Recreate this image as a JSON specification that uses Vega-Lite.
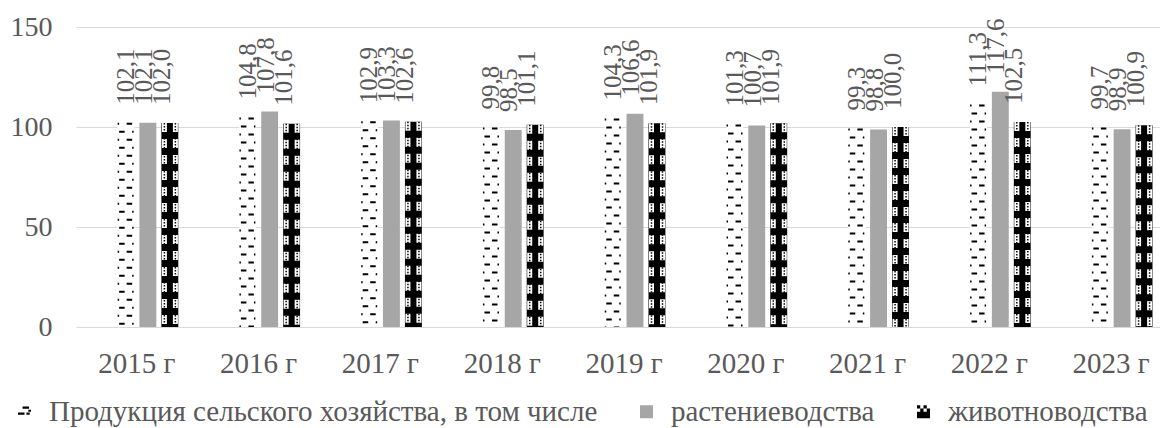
{
  "$schema": "https://vega.github.io/schema/vega-lite/v6.json",
  "width": 1084,
  "height": 300,
  "autosize": {"type": "none"},
  "padding": {"left": 76, "top": 27, "right": 0, "bottom": 101},
  "background": "white",
  "config": {
    "view": {"stroke": null},
    "font": "Liberation Serif",
    "locale": {"number": {"decimal": ",", "thousands": "\u00a0", "grouping": [3], "currency": ["", ""]}},
    "axis": {"labelFont": "Liberation Serif", "labelColor": "#595959", "labelFontSize": 28, "title": null, "ticks": false, "domain": false}
  },
  "data": {
    "values": [
      {"year": "2015 г", "series": "Продукция сельского хозяйства, в том числе", "value": 102.1},
      {"year": "2015 г", "series": "растениеводства", "value": 102.1},
      {"year": "2015 г", "series": "животноводства", "value": 102.0},
      {"year": "2016 г", "series": "Продукция сельского хозяйства, в том числе", "value": 104.8},
      {"year": "2016 г", "series": "растениеводства", "value": 107.8},
      {"year": "2016 г", "series": "животноводства", "value": 101.6},
      {"year": "2017 г", "series": "Продукция сельского хозяйства, в том числе", "value": 102.9},
      {"year": "2017 г", "series": "растениеводства", "value": 103.3},
      {"year": "2017 г", "series": "животноводства", "value": 102.6},
      {"year": "2018 г", "series": "Продукция сельского хозяйства, в том числе", "value": 99.8},
      {"year": "2018 г", "series": "растениеводства", "value": 98.5},
      {"year": "2018 г", "series": "животноводства", "value": 101.1},
      {"year": "2019 г", "series": "Продукция сельского хозяйства, в том числе", "value": 104.3},
      {"year": "2019 г", "series": "растениеводства", "value": 106.6},
      {"year": "2019 г", "series": "животноводства", "value": 101.9},
      {"year": "2020 г", "series": "Продукция сельского хозяйства, в том числе", "value": 101.3},
      {"year": "2020 г", "series": "растениеводства", "value": 100.7},
      {"year": "2020 г", "series": "животноводства", "value": 101.9},
      {"year": "2021 г", "series": "Продукция сельского хозяйства, в том числе", "value": 99.3},
      {"year": "2021 г", "series": "растениеводства", "value": 98.8},
      {"year": "2021 г", "series": "животноводства", "value": 100.0},
      {"year": "2022 г", "series": "Продукция сельского хозяйства, в том числе", "value": 111.3},
      {"year": "2022 г", "series": "растениеводства", "value": 117.6},
      {"year": "2022 г", "series": "животноводства", "value": 102.5},
      {"year": "2023 г", "series": "Продукция сельского хозяйства, в том числе", "value": 99.7},
      {"year": "2023 г", "series": "растениеводства", "value": 98.9},
      {"year": "2023 г", "series": "животноводства", "value": 100.9}
    ]
  },
  "encoding": {
    "x": {
      "field": "year", "type": "nominal", "sort": null,
      "scale": {"paddingInner": 0.32, "paddingOuter": 0.16, "range": [0, 1096]},
      "axis": {"labelAngle": 0, "labelPadding": 22, "grid": false, "labelFontSize": 29}
    },
    "y": {
      "field": "value", "type": "quantitative",
      "scale": {"domain": [0, 150], "nice": false},
      "axis": {"values": [0, 50, 100, 150], "grid": true, "gridColor": "#d9d9d9", "gridWidth": 1, "labelPadding": 24}
    }
  },
  "layer": [
    {
      "mark": {"type": "bar"},
      "encoding": {
        "xOffset": {"field": "series", "scale": {"domain": ["_", "Продукция сельского хозяйства, в том числе", "растениеводства", "животноводства"], "paddingInner": 0.23, "paddingOuter": 0}},
        "color": {
          "condition": {"test": "datum.series === 'Продукция сельского хозяйства, в том числе'", "value": "#ffffff"},
          "field": "series", "type": "nominal",
          "scale": {"domain": ["Продукция сельского хозяйства, в том числе", "растениеводства", "животноводства"], "range": ["#000000", "#a6a6a6", "#000000"]},
          "legend": {
            "title": null, "orient": "none", "direction": "horizontal", "legendX": -66, "legendY": 370,
            "labelFont": "Liberation Serif", "labelFontSize": 29, "labelColor": "#595959",
            "symbolSize": 169, "labelOffset": 10, "columnPadding": 34,
            "labelLimit": 1000,
            "encode": {
              "symbols": {
                "update": {
                  "shape": {"signal": "datum.value === 'растениеводства' ? 'square' : datum.value === 'животноводства' ? 'M-1,0H1V1H-1Z M-1,-1h0.5v0.5h-0.5z M0,-1h0.5v0.5h-0.5z M-0.5,-0.5h0.5v0.5h-0.5z M0.5,-0.5h0.5v0.5h-0.5z' : 'M-0.3,-0.8H0.7V-0.45H-0.3Z M-1,0.1H0V0.45H-1Z M0.3,0.1H0.8V0.45H0.3Z M0.6,-0.3H1V0H0.6Z'"},
                  "stroke": {"value": "transparent"},
                  "opacity": {"value": 1}
                }
              }
            }
          }
        }
      }
    },
    {
      "transform": [{"filter": {"field": "series", "equal": "Продукция сельского хозяйства, в том числе"}}],
      "mark": {"type": "rule", "color": "#000000", "strokeWidth": 1.5, "strokeDash": [2, 14], "strokeDashOffset": 0, "xOffset": -18.5},
      "encoding": {"y2": {"datum": 0}}
    },
    {
      "transform": [{"filter": {"field": "series", "equal": "Продукция сельского хозяйства, в том числе"}}],
      "mark": {"type": "rule", "color": "#000000", "strokeWidth": 5.5, "strokeDash": [2, 14], "strokeDashOffset": 0, "xOffset": -7.5},
      "encoding": {"y2": {"datum": 0}}
    },
    {
      "transform": [{"filter": {"field": "series", "equal": "Продукция сельского хозяйства, в том числе"}}],
      "mark": {"type": "rule", "color": "#000000", "strokeWidth": 5.5, "strokeDash": [2, 14], "strokeDashOffset": 8, "xOffset": -15},
      "encoding": {"y2": {"datum": 0}}
    },
    {
      "transform": [{"filter": {"field": "series", "equal": "Продукция сельского хозяйства, в том числе"}}],
      "mark": {"type": "rule", "color": "#000000", "strokeWidth": 1.5, "strokeDash": [2, 14], "strokeDashOffset": 8, "xOffset": -4},
      "encoding": {"y2": {"datum": 0}}
    },
    {
      "transform": [{"filter": {"field": "series", "equal": "животноводства"}}],
      "mark": {"type": "rule", "color": "#ffffff", "strokeWidth": 5, "strokeDash": [9, 7], "xOffset": 27.5},
      "encoding": {"y2": {"datum": 0}}
    },
    {
      "transform": [{"filter": {"field": "series", "equal": "животноводства"}}],
      "mark": {"type": "rule", "color": "#ffffff", "strokeWidth": 5, "strokeDash": [9, 7], "xOffset": 38.5},
      "encoding": {"y2": {"datum": 0}}
    },
    {
      "transform": [{"filter": {"field": "series", "equal": "животноводства"}}],
      "mark": {"type": "rule", "color": "#000000", "strokeWidth": 1.5, "strokeDash": [1.5, 1.5], "xOffset": 27.5},
      "encoding": {"y2": {"datum": 0}}
    },
    {
      "transform": [{"filter": {"field": "series", "equal": "животноводства"}}],
      "mark": {"type": "rule", "color": "#000000", "strokeWidth": 1.5, "strokeDash": [1.5, 1.5], "xOffset": 38.5},
      "encoding": {"y2": {"datum": 0}}
    },
    {
      "transform": [{"filter": {"field": "series", "equal": "Продукция сельского хозяйства, в том числе"}}],
      "mark": {"type": "text", "angle": 270, "align": "left", "baseline": "middle", "dx": 18, "dy": 0, "font": "Liberation Serif", "fontSize": 25, "color": "#595959"},
      "encoding": {
        "xOffset": {"field": "series", "scale": {"domain": ["_", "Продукция сельского хозяйства, в том числе", "растениеводства", "животноводства"], "paddingInner": 0.23, "paddingOuter": 0}},
        "text": {"field": "value", "type": "quantitative", "format": ".1f"}
      }
    },
    {
      "transform": [{"filter": {"field": "series", "equal": "растениеводства"}}],
      "mark": {"type": "text", "angle": 270, "align": "left", "baseline": "middle", "dx": 18, "dy": -4, "font": "Liberation Serif", "fontSize": 25, "color": "#595959"},
      "encoding": {
        "xOffset": {"field": "series", "scale": {"domain": ["_", "Продукция сельского хозяйства, в том числе", "растениеводства", "животноводства"], "paddingInner": 0.23, "paddingOuter": 0}},
        "text": {"field": "value", "type": "quantitative", "format": ".1f"}
      }
    },
    {
      "transform": [{"filter": {"field": "series", "equal": "животноводства"}}],
      "mark": {"type": "text", "angle": 270, "align": "left", "baseline": "middle", "dx": 18, "dy": -8, "font": "Liberation Serif", "fontSize": 25, "color": "#595959"},
      "encoding": {
        "xOffset": {"field": "series", "scale": {"domain": ["_", "Продукция сельского хозяйства, в том числе", "растениеводства", "животноводства"], "paddingInner": 0.23, "paddingOuter": 0}},
        "text": {"field": "value", "type": "quantitative", "format": ".1f"}
      }
    }
  ]
}
